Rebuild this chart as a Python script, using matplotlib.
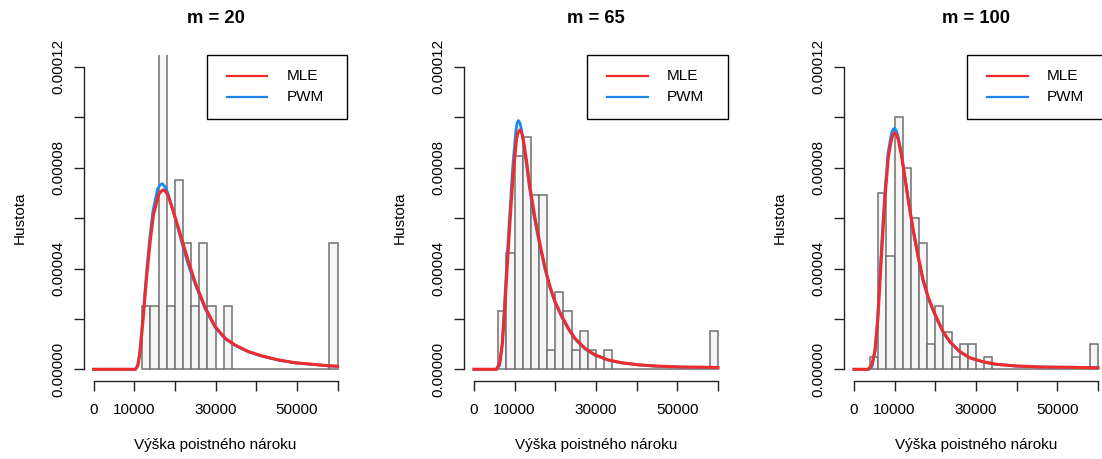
import numpy as np
import matplotlib
matplotlib.use('Agg')
import matplotlib.pyplot as plt
from matplotlib.patches import Rectangle

plt.rcParams['font.family'] = ['Liberation Sans', 'DejaVu Sans']

# --- data ------------------------------------------------------------------
block_sizes = [20, 65, 100]
bin_width = 2000
x_max = 60000

# histogram: first bin edge and counts per 2000-wide bin (up to 60000)
hist_start = {20: 12000, 65: 6000, 100: 4000}
hist_counts = {
    20: [1, 1, 5, 1, 3, 2, 1, 2, 1, 0, 1,
         0, 0, 0, 0, 0, 0, 0, 0, 0, 0, 0, 0, 2],
    65: [3, 6, 11, 12, 9, 9, 1, 4, 3, 1, 2, 1, 0, 1,
         0, 0, 0, 0, 0, 0, 0, 0, 0, 0, 0, 0, 2],
    100: [1, 14, 9, 20, 16, 12, 10, 2, 5, 3, 1, 2, 2, 0, 1,
          0, 0, 0, 0, 0, 0, 0, 0, 0, 0, 0, 0, 2],
}

# fitted densities (MLE / PWM)
mle_x_20 = [0, 10300, 10900, 11450, 12270, 13100, 13920, 14730, 15960, 16580,
            17190, 17800, 18420, 19660, 20890, 22120, 23350, 25000, 27460,
            29930, 32390, 34850, 38130, 41420, 45520, 49630, 53740, 57830, 60000]
mle_y_20 = [0, 0, 1.5e-6, 7.0e-6, 2.15e-5, 3.74e-5, 5.06e-5, 6.12e-5, 6.92e-5,
            7.06e-5, 7.12e-5, 7.04e-5, 6.85e-5, 6.25e-5, 5.6e-5, 4.93e-5,
            4.27e-5, 3.45e-5, 2.45e-5, 1.69e-5, 1.23e-5, 9.6e-6, 7.0e-6,
            5.3e-6, 3.7e-6, 2.6e-6, 2.0e-6, 1.4e-6, 1.2e-6]
pwm_x_20 = [0, 10300, 10850, 11400, 12200, 13000, 13800, 14600, 15750, 16350,
            16950, 17600, 18250, 19500, 20750, 22000, 23300, 25000, 27460,
            29930, 32390, 34850, 38130, 41420, 45520, 49630, 53740, 57830, 60000]
pwm_y_20 = [0, 0, 1.5e-6, 7.0e-6, 2.18e-5, 3.8e-5, 5.18e-5, 6.28e-5, 7.15e-5,
            7.33e-5, 7.36e-5, 7.24e-5, 7.0e-5, 6.32e-5, 5.6e-5, 4.86e-5,
            4.15e-5, 3.37e-5, 2.4e-5, 1.65e-5, 1.21e-5, 9.4e-6, 6.9e-6,
            5.2e-6, 3.6e-6, 2.55e-6, 1.95e-6, 1.35e-6, 1.15e-6]

mle_x_65 = [0, 5500, 6320, 6990, 7560, 8130, 8790, 9600, 10440, 10850, 11260,
            11660, 12070, 12910, 13730, 14960, 16200, 17430, 18670, 19900,
            21560, 23190, 24840, 27310, 29780, 33060, 36370, 40470, 44590,
            51190, 57750, 60000]
mle_y_65 = [0, 0, 2.4e-6, 1.03e-5, 2.35e-5, 3.94e-5, 5.66e-5, 7.64e-5, 9.1e-5,
            9.4e-5, 9.5e-5, 9.42e-5, 9.17e-5, 8.3e-5, 7.25e-5, 6.06e-5, 5.0e-5,
            4.07e-5, 3.3e-5, 2.7e-5, 2.12e-5, 1.63e-5, 1.23e-5, 8.3e-6, 5.7e-6,
            3.7e-6, 2.6e-6, 1.8e-6, 1.3e-6, 9e-7, 8e-7, 7e-7]
pwm_x_65 = [0, 5600, 6300, 6920, 7480, 8050, 8700, 9500, 10300, 10620, 10930,
            11300, 11700, 12600, 13500, 14800, 16100, 17400, 18650, 19900,
            21560, 23190, 24840, 27310, 29780, 33060, 36370, 40470, 44590,
            51190, 57750, 60000]
pwm_y_65 = [0, 0, 1.5e-6, 9.5e-6, 2.45e-5, 4.15e-5, 5.9e-5, 7.95e-5, 9.45e-5,
            9.78e-5, 9.87e-5, 9.78e-5, 9.5e-5, 8.5e-5, 7.38e-5, 6.05e-5,
            4.97e-5, 4.02e-5, 3.25e-5, 2.66e-5, 2.09e-5, 1.6e-5, 1.2e-5, 8.1e-6,
            5.6e-6, 3.6e-6, 2.5e-6, 1.75e-6, 1.25e-6, 8.5e-7, 7.5e-7, 6.5e-7]

mle_x_100 = [0, 3500, 4390, 5200, 5860, 6420, 6990, 7650, 8460, 9290, 9700,
             10100, 10500, 10910, 11740, 12550, 13360, 14580, 15810, 17030,
             18300, 19500, 20320, 21940, 23580, 26030, 28480, 31740, 35020,
             39930, 46450, 53000, 60000]
mle_y_100 = [0, 0, 1.7e-6, 7.7e-6, 1.96e-5, 3.54e-5, 5.13e-5, 6.85e-5, 8.44e-5,
             9.17e-5, 9.33e-5, 9.38e-5, 9.3e-5, 9.1e-5, 8.44e-5, 7.58e-5,
             6.72e-5, 5.53e-5, 4.47e-5, 3.54e-5, 2.85e-5, 2.35e-5, 2.05e-5,
             1.49e-5, 1.1e-5, 7.0e-6, 4.6e-6, 3.0e-6, 2.0e-6, 1.3e-6, 9e-7,
             8e-7, 6e-7]
pwm_x_100 = [0, 3700, 4400, 5150, 5800, 6350, 6920, 7580, 8400, 9230, 9620,
             10000, 10400, 10830, 11680, 12500, 13300, 14530, 15780, 17000,
             18300, 19500, 20320, 21940, 23580, 26030, 28480, 31740, 35020,
             39930, 46450, 53000, 60000]
pwm_y_100 = [0, 0, 1.0e-6, 6.8e-6, 1.95e-5, 3.6e-5, 5.22e-5, 6.98e-5, 8.6e-5,
             9.35e-5, 9.52e-5, 9.56e-5, 9.47e-5, 9.25e-5, 8.55e-5, 7.65e-5,
             6.76e-5, 5.53e-5, 4.44e-5, 3.5e-5, 2.8e-5, 2.31e-5, 2.01e-5,
             1.46e-5, 1.08e-5, 6.9e-6, 4.5e-6, 2.95e-6, 1.95e-6, 1.28e-6,
             8.8e-7, 7.8e-7, 6e-7]

curves = {
    20: (mle_x_20, mle_y_20, pwm_x_20, pwm_y_20),
    65: (mle_x_65, mle_y_65, pwm_x_65, pwm_y_65),
    100: (mle_x_100, mle_y_100, pwm_x_100, pwm_y_100),
}

x_ticks = [0, 10000, 20000, 30000, 40000, 50000, 60000]
x_tick_labels = ['0', '10000', '', '30000', '', '50000', '']
y_ticks = [0, 2e-5, 4e-5, 6e-5, 8e-5, 1e-4, 1.2e-4]
y_tick_labels = ['0.00000', '', '0.00004', '', '0.00008', '', '0.00012']

MLE_COLOR = '#EE2C2C'
PWM_COLOR = '#1C86EE'
BAR_FILL = '#F5F5F5'
BAR_EDGE = '#707070'

FIG_W, FIG_H = 1102, 459
AX_LEFT = [83.8, 464.2, 844.2]
AX_BOTTOM = 77.6
AX_W, AX_H = 263.5, 326.6


def draw_legend(ax):
    """Draws an R-style legend box in the top right corner of the axes."""
    box_w, box_h = 140.6, 63.7
    x0 = 1 - box_w / AX_W
    y0 = 1 - box_h / AX_H
    ax.add_patch(Rectangle((x0, y0), box_w / AX_W, box_h / AX_H,
                           transform=ax.transAxes, facecolor='white',
                           edgecolor='black', lw=1.0, clip_on=False, zorder=5))
    for i, (label, color) in enumerate([('MLE', MLE_COLOR), ('PWM', PWM_COLOR)]):
        yy = 1 - (21.3 + 21.3 * i) / AX_H
        ax.plot([x0 + 20 / AX_W, x0 + 60.6 / AX_W], [yy, yy],
                transform=ax.transAxes, color=color, lw=1.6,
                clip_on=False, zorder=6)
        ax.text(x0 + 80 / AX_W, yy, label, transform=ax.transAxes,
                fontsize=11, va='center', ha='left', zorder=6)


def draw_panel(ax, m):
    edges = np.arange(hist_start[m], x_max + 1, bin_width)
    ax.hist(edges[:-1], bins=edges, weights=hist_counts[m], density=True,
            color=BAR_FILL, edgecolor=BAR_EDGE, linewidth=1.1, zorder=1)

    mx, my, px, py = curves[m]
    ax.plot(px, py, color=PWM_COLOR, lw=2.0, zorder=2)
    ax.plot(mx, my, color=MLE_COLOR, lw=2.2, zorder=3)

    ax.set_xlim(-2400, 62400)
    ax.set_ylim(-4.8e-6, 1.248e-4)
    for s in ['top', 'right']:
        ax.spines[s].set_visible(False)
    ax.spines['left'].set_bounds(0, 1.2e-4)
    ax.spines['bottom'].set_bounds(0, 60000)
    for s in ['left', 'bottom']:
        ax.spines[s].set_linewidth(1.0)
        ax.spines[s].set_color('#222222')

    ax.set_xticks(x_ticks)
    ax.set_xticklabels(x_tick_labels)
    ax.set_yticks(y_ticks)
    ax.set_yticklabels(y_tick_labels)
    ax.tick_params(axis='both', direction='out', length=7, width=1.0,
                   color='#222222', labelsize=11)
    ax.tick_params(axis='x', pad=8.7)
    ax.tick_params(axis='y', pad=6.3)
    for lab in ax.get_yticklabels():
        lab.set_rotation(90)
        lab.set_va('center')

    ax.set_title('m = %d' % m, fontsize=13.2, fontweight='bold', pad=22.7)
    ax.set_xlabel('Výška poistného nároku', fontsize=11)
    ax.set_ylabel('Hustota', fontsize=11)
    ax.xaxis.set_label_coords(0.5, -0.173)
    ax.yaxis.set_label_coords(-0.218, 0.5)

    draw_legend(ax)


def main():
    fig = plt.figure(figsize=(FIG_W / 100, FIG_H / 100), dpi=100)
    for left, m in zip(AX_LEFT, block_sizes):
        ax = fig.add_axes([left / FIG_W, AX_BOTTOM / FIG_H,
                           AX_W / FIG_W, AX_H / FIG_H])
        draw_panel(ax, m)
    fig.savefig('out.png', dpi=100)


if __name__ == '__main__':
    main()
